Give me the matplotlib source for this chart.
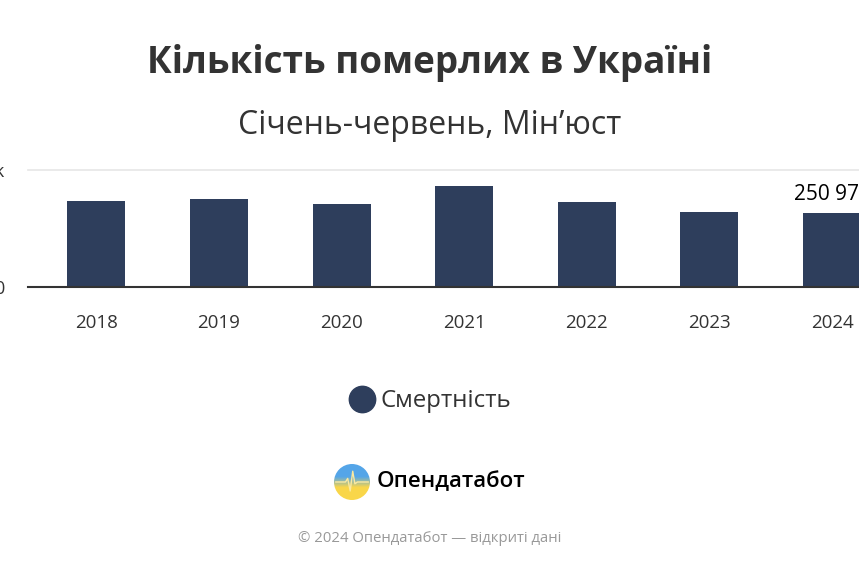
import numpy as np
import matplotlib
matplotlib.use('agg')
from matplotlib import pyplot as plt
from matplotlib.lines import Line2D
from matplotlib.patches import Circle

plt.rcParams['font.family'] = ['Open Sans', 'DejaVu Sans']

years = ['2018', '2019', '2020', '2021', '2022', '2023', '2024']
deaths = [293000, 299000, 283000, 345000, 289000, 255000, 250972]
y_ticks = [0, 400000]
y_tick_labels = ['0', '400k']

W, H = 859, 569
BAR = '#2e3e5c'

fig = plt.figure(figsize=(W / 100, H / 100), dpi=100)

# plot area: left edge at 28px, baseline at 286.7px, top gridline at 170px
x0 = 28 / W
ax = fig.add_axes([x0, (H - 286.7) / H, 1 - x0, (286.7 - 170) / H])
xpos = np.arange(len(years))
ax.bar(xpos, deaths, width=0.473, color=BAR, zorder=3)
ax.set_xlim(-0.557, 6.22)
ax.set_ylim(0, 400000)
ax.set_xticks(xpos, years)
ax.set_yticks(y_ticks, y_tick_labels)
ax.tick_params(axis='x', length=0, pad=20, labelsize=13.5, labelcolor='#333333')
ax.tick_params(axis='y', length=0, pad=17, labelsize=13, labelcolor='#333333')
for s in ['top', 'right', 'left']:
    ax.spines[s].set_visible(False)
ax.spines['bottom'].set_color('#333333')
ax.spines['bottom'].set_linewidth(1.5)
ax.spines['bottom'].set_zorder(4)
ax.axhline(400000, color='#e6e6e6', lw=1.2, zorder=1, clip_on=False)
ax.text(xpos[-1], deaths[-1] + 30000, f'{deaths[-1]:,}'.replace(',', ' '),
        ha='center', va='bottom', fontsize=15, color='black')

fig.text(0.5, 1 - 63 / H, 'Кількість померлих в Україні', ha='center', va='center',
         fontsize=26.6, fontweight='bold', color='#333333')
fig.text(0.5, 1 - 125 / H, 'Січень-червень, Мін’юст', ha='center', va='center',
         fontsize=23, color='#333333')

# legend
fig.legend(handles=[Line2D([], [], marker='o', ls='', ms=19, color=BAR)],
           labels=['Смертність'], loc='center', bbox_to_anchor=(0.5 - 5 / W, 1 - 401 / H),
           frameon=False, fontsize=17.3, handletextpad=-0.2, labelcolor='#333333')

# logo
lax = fig.add_axes([334 / W, 1 - 500 / H, 36 / W, 36 / H])
lax.set_xlim(0, 1)
lax.set_ylim(0, 1)
lax.axis('off')
t = np.linspace(0, 1, 100)[:, None]
blue = np.array([0.33, 0.65, 0.91])
yellow = np.array([0.98, 0.84, 0.29])
mix = np.clip((t - 0.35) / 0.3, 0, 1)
grad = (blue * (1 - mix) + yellow * mix)[:, None, :].repeat(10, axis=1)
im = lax.imshow(grad, extent=(0, 1, 0, 1), aspect='auto')
circ = Circle((0.5, 0.5), 0.5, transform=lax.transData)
im.set_clip_path(circ)
lax.plot([0.05, 0.32, 0.38, 0.45, 0.52, 0.58, 0.65, 0.95],
         [0.5, 0.5, 0.6, 0.25, 0.8, 0.45, 0.5, 0.5], color='#fbe9a0', lw=1)
fig.text(377 / W, 1 - 482 / H, 'Опендатабот', ha='left', va='center',
         fontsize=16, fontweight='semibold', color='black')

fig.text(0.5, 1 - 539 / H, '© 2024 Опендатабот — відкриті дані', ha='center',
         va='center', fontsize=10.7, color='#999999')

fig.savefig('out.png', dpi=100)
